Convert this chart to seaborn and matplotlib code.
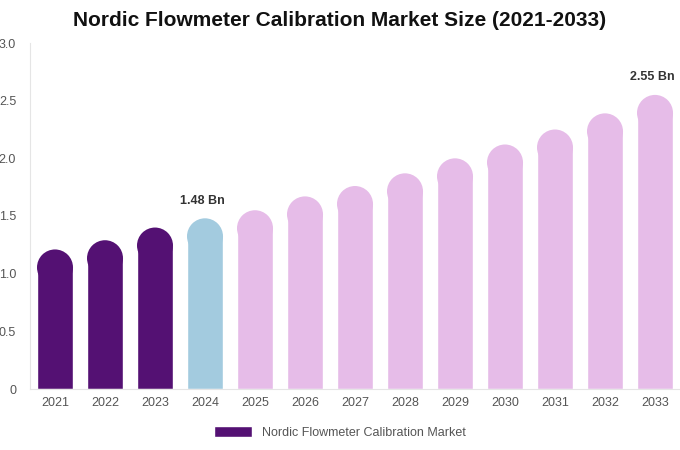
import matplotlib
matplotlib.use("Agg")
import matplotlib.pyplot as plt
import seaborn as sns
import pandas as pd
from matplotlib.patches import Ellipse, Patch

years = [str(y) for y in range(2021, 2034)]
values = [1.21, 1.29, 1.40, 1.48, 1.55, 1.67, 1.76, 1.87, 2.00, 2.12, 2.25, 2.39, 2.55]
colors = ["#541173"] * 3 + ["#A3CBDF"] + ["#E6BCE8"] * 9
labels = {3: "1.48 Bn", 12: "2.55 Bn"}

sns.set_theme(style="white")
plt.rcParams['font.family'] = ['Liberation Sans', 'DejaVu Sans']
fig = plt.figure(figsize=(6.8, 4.5), dpi=100)
ax = fig.add_axes([30/680, 61/450, 650/680, 346/450])
df = pd.DataFrame({"year": years, "value": values})
sns.barplot(data=df, x="year", y="value", hue="year", palette=colors, legend=False,
            width=0.72, ax=ax, saturation=1)
ax.set_ylim(0, 3.0)
ax.set_xlim(-0.5, len(years) - 0.5)
fig.canvas.draw()
# pixel -> data scale for rounding
ppu = ax.transData.transform((0, 1))[1] - ax.transData.transform((0, 0))[1]
ppx = ax.transData.transform((1, 0))[0] - ax.transData.transform((0, 0))[0]
for i, p in enumerate(list(ax.patches)):
    w = p.get_width(); x = p.get_x(); h = p.get_height()
    r_px = w * ppx / 2
    ry = r_px / ppu
    p.set_height(h - ry)
    ax.add_patch(Ellipse((x + w / 2, h - ry), w, 2 * ry, facecolor=p.get_facecolor(),
                         edgecolor="none", linewidth=0))
for i, t in labels.items():
    ax.text(i - 0.05, values[i] + 0.1, t, ha="center", va="bottom", fontsize=9,
            fontweight="bold", color="#333333")
ax.set_xlabel(""); ax.set_ylabel("")
ax.set_yticks([0, 0.5, 1.0, 1.5, 2.0, 2.5, 3.0])
ax.set_yticklabels(["0", "0.5", "1.0", "1.5", "2.0", "2.5", "3.0"])
ax.tick_params(axis="both", labelsize=9, colors="#555555", length=0, pad=6)
ax.tick_params(axis="y", pad=10)
for s in ["top", "right"]:
    ax.spines[s].set_visible(False)
for s in ["left", "bottom"]:
    ax.spines[s].set_color("#E5E5E5"); ax.spines[s].set_linewidth(0.8)
fig.suptitle("Nordic Flowmeter Calibration Market Size (2021-2033)", x=0.5, y=0.975,
             fontsize=15, fontweight="bold", color="#111111")
fig.legend(handles=[Patch(facecolor="#541173", label="Nordic Flowmeter Calibration Market")],
           loc="lower center", bbox_to_anchor=(0.5, 0.0), frameon=False, fontsize=9,
           handlelength=3, handleheight=0.9, labelcolor="#555555")
fig.savefig("out.png", dpi=100)
